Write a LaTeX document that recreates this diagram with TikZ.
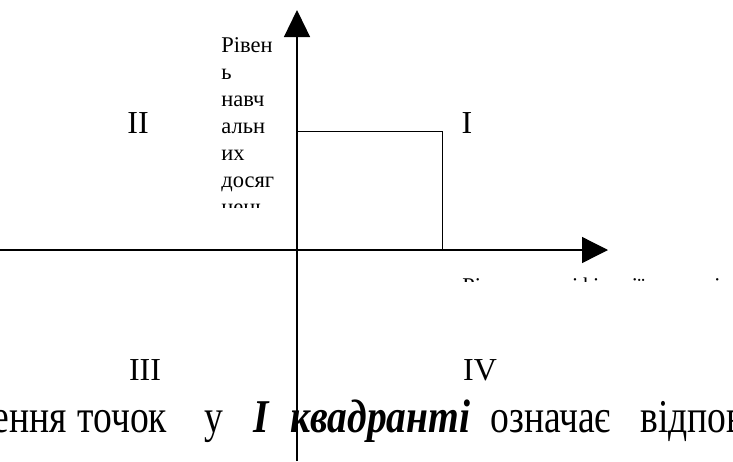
\documentclass[tikz,border=0pt]{standalone}
\usepackage{fontspec}
\setmainfont{Liberation Serif}
\newfontfamily\narrowserif[FakeStretch=0.8, BoldItalicFeatures={FakeStretch=0.84}]{Liberation Serif}
\usetikzlibrary{arrows.meta}

\begin{document}
\begin{tikzpicture}[x=1pt, y=-1pt, thick, every node/.style={inner sep=0pt}]
    \useasboundingbox (0,0) rectangle (733,461);
    \tikzset{numeral/.style={font=\fontsize{32}{38}\selectfont},
             boxtext/.style={font=\fontsize{22.5}{27}\selectfont, anchor=base west},
             lineword/.style={font=\narrowserif\fontsize{47}{54}\selectfont, anchor=base west}}

    % Axes
    \coordinate (xs) at (0,250);
    \coordinate (xe) at (608,250);
    \coordinate (ys) at (297,461);
    \coordinate (ye) at (297,10);
    \draw [line width=1.3pt, -{Triangle[width=26pt,length=26pt]}] (xs) -- (xe);
    \draw [line width=1.3pt, -{Triangle[width=26pt,length=27pt]}] (ys) -- (ye);

    % Box in the first quadrant
    \coordinate (A) at (297,131);
    \coordinate (B) at (442,131);
    \coordinate (C) at (442,250);
    \draw [line width=1pt] (A) -- (B) -- (C);

    % Quadrant labels
    \node [numeral] (q1) at (467,123) {I};
    \node [numeral] (q2) at (138,123) {II};
    \node [numeral] (q3) at (145,370) {III};
    \node [numeral] (q4) at (480,370) {IV};

    % Axis labels (cut off by their text boxes)
    \begin{scope}
        \clip (200,20) rectangle (290,207);
        \foreach \part [count=\i] in {Рівен,ь,навч,альн,их,досяг,нень}
            \node [boxtext] (ylab\i) at (221,{52+27*(\i-1)}) {\part};
    \end{scope}
    \begin{scope}
        \clip (455,265) rectangle (733,281);
        \node [boxtext] (xlab) at (462,293) {Рівень кваліфікації вчителів};
    \end{scope}

    % Line of the page text below
    \node [lineword, anchor=base east] (w1) at (67,432) {Знаходження};
    \node [lineword] (w2) at (77,432) {точок};
    \node [lineword] (w3) at (204,432) {у};
    \node [lineword] (w4) at (253,432) {\textbf{\textit{I}}};
    \node [lineword] (w5) at (290,432) {\textbf{\textit{квадранті}}};
    \node [lineword] (w6) at (490,432) {означає};
    \node [lineword] (w7) at (640,432) {відповідність};
\end{tikzpicture}
\end{document}
